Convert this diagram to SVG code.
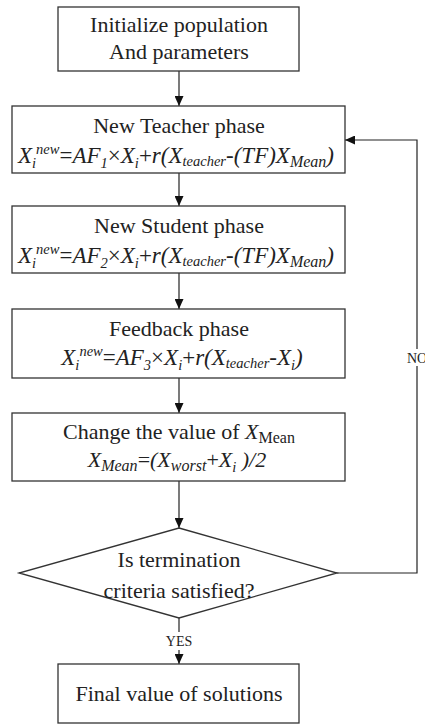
<svg xmlns="http://www.w3.org/2000/svg" width="425" height="727" viewBox="0 0 425 727">
<defs>
<marker id="ah" markerUnits="userSpaceOnUse" markerWidth="10" markerHeight="9" refX="10" refY="4.5" orient="auto">
<path d="M0,0 L10,4.5 L0,9 z" fill="#111"/>
</marker>
<style>
.box{fill:#fff;stroke:#333;stroke-width:1.3}
.t{font-family:"Liberation Serif","Times New Roman",serif;font-size:22px;fill:#222;text-anchor:middle}
.f{font-family:"Liberation Serif","Times New Roman",serif;font-size:22px;fill:#222;text-anchor:middle;font-style:italic}
.big{font-size:23px}
.s{font-size:14.5px}
.m{font-size:16px}
.u{font-style:normal}
.lab{font-family:"Liberation Serif","Times New Roman",serif;font-size:14px;fill:#222;text-anchor:middle}
.c{fill:none;stroke:#222;stroke-width:1.2}
</style>
</defs>
<rect width="425" height="727" fill="#fff"/>
<g id="connectors">
<line class="c" x1="179" y1="71" x2="179" y2="106" marker-end="url(#ah)"/>
<line class="c" x1="179" y1="173" x2="179" y2="206" marker-end="url(#ah)"/>
<line class="c" x1="179" y1="273" x2="179" y2="309" marker-end="url(#ah)"/>
<line class="c" x1="179" y1="378" x2="179" y2="413" marker-end="url(#ah)"/>
<line class="c" x1="179" y1="481" x2="179" y2="528" marker-end="url(#ah)"/>
<line class="c" x1="179" y1="618" x2="179" y2="664" marker-end="url(#ah)"/>
<polyline class="c" points="337,573 417,573 417,140 345,140" marker-end="url(#ah)"/>
<rect x="162" y="632" width="34" height="18" fill="#fff"/>
<text class="lab" x="179" y="646">YES</text>
<rect x="407" y="349" width="20" height="17" fill="#fff"/>
<text class="lab" x="417" y="363">NO</text>
</g>
<g id="init">
<rect class="box" x="58" y="7" width="241" height="64"/>
<text class="t" x="179" y="32">Initialize population</text>
<text class="t" x="179" y="59">And parameters</text>
</g>
<g id="teacher">
<rect class="box" x="12" y="106" width="333" height="67"/>
<text class="t" x="179" y="133">New Teacher phase</text>
<text class="f big" x="176" y="163"><tspan>X</tspan><tspan class="s" dy="5">i</tspan><tspan class="s" dy="-14">new</tspan><tspan class="u" dy="9">=</tspan><tspan>AF</tspan><tspan class="s" dy="5">1</tspan><tspan class="u" dy="-5">×</tspan><tspan>X</tspan><tspan class="s" dy="5">i</tspan><tspan class="u" dy="-5">+</tspan><tspan>r(X</tspan><tspan class="s" dy="3">teacher</tspan><tspan dy="-3">-(TF)X</tspan><tspan class="m" dy="4">Mean</tspan><tspan dy="-4">)</tspan></text>
</g>
<g id="student">
<rect class="box" x="12" y="206" width="333" height="67"/>
<text class="t" x="179" y="233">New Student phase</text>
<text class="f big" x="176" y="263"><tspan>X</tspan><tspan class="s" dy="5">i</tspan><tspan class="s" dy="-14">new</tspan><tspan class="u" dy="9">=</tspan><tspan>AF</tspan><tspan class="s" dy="5">2</tspan><tspan class="u" dy="-5">×</tspan><tspan>X</tspan><tspan class="s" dy="5">i</tspan><tspan class="u" dy="-5">+</tspan><tspan>r(X</tspan><tspan class="s" dy="3">teacher</tspan><tspan dy="-3">-(TF)X</tspan><tspan class="m" dy="4">Mean</tspan><tspan dy="-4">)</tspan></text>
</g>
<g id="feedback">
<rect class="box" x="12" y="309" width="333" height="69"/>
<text class="t" x="179" y="336">Feedback phase</text>
<text class="f big" x="182" y="365"><tspan>X</tspan><tspan class="s" dy="5">i</tspan><tspan class="s" dy="-14">new</tspan><tspan class="u" dy="9">=</tspan><tspan>AF</tspan><tspan class="s" dy="5">3</tspan><tspan class="u" dy="-5">×</tspan><tspan>X</tspan><tspan class="s" dy="5">i</tspan><tspan class="u" dy="-5">+</tspan><tspan>r(X</tspan><tspan class="s" dy="3">teacher</tspan><tspan dy="-3">-X</tspan><tspan class="s" dy="5">i</tspan><tspan dy="-5">)</tspan></text>
</g>
<g id="mean">
<rect class="box" x="12" y="413" width="333" height="68"/>
<text class="t" x="179" y="439"><tspan>Change the value of </tspan><tspan font-style="italic">X</tspan><tspan class="m" dy="4">Mean</tspan></text>
<text class="f" x="177" y="467"><tspan>X</tspan><tspan class="m" dy="4">Mean</tspan><tspan class="u" dy="-4">=</tspan><tspan>(X</tspan><tspan class="m" dy="4">worst</tspan><tspan class="u" dy="-4">+</tspan><tspan>X</tspan><tspan class="s" dy="5">i</tspan><tspan dy="-5"> )/2</tspan></text>
</g>
<g id="decision">
<polygon class="box" points="179,528 337,573 179,618 19,573"/>
<text class="t" x="179" y="567">Is termination</text>
<text class="t" x="179" y="598">criteria satisfied?</text>
</g>
<g id="final">
<rect class="box" x="58" y="664" width="241" height="59"/>
<text class="t" x="179" y="701">Final value of solutions</text>
</g>
</svg>
